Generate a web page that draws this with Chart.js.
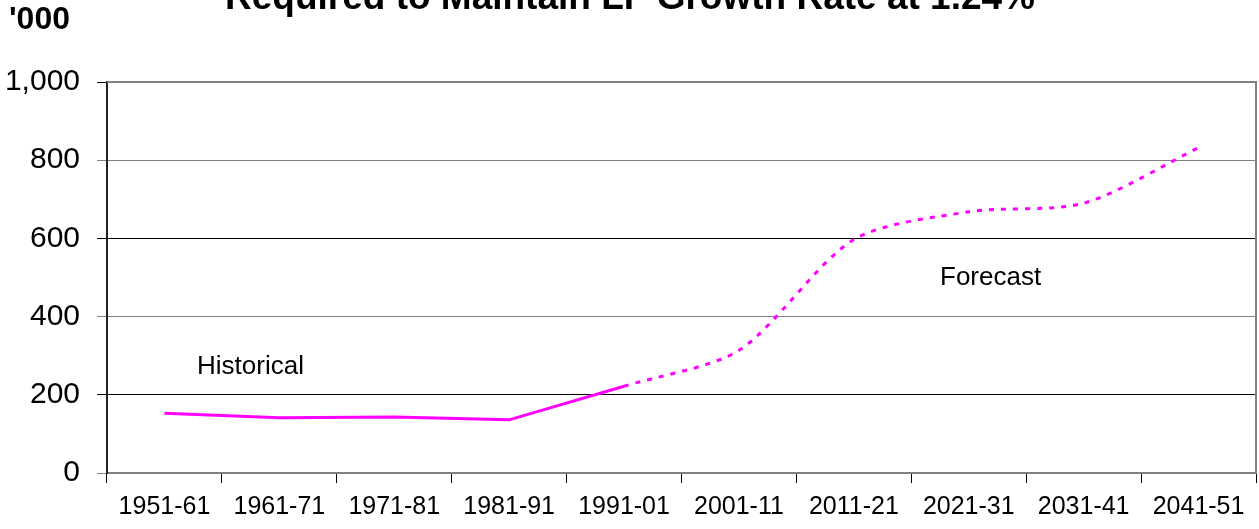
<!DOCTYPE html>
<html>
<head>
<meta charset="utf-8">
<style>
  html, body { margin: 0; padding: 0; background: #fff; }
  #wrap { position: relative; width: 1259px; height: 529px; }
  canvas { display: block; }
</style>
<script src="https://cdn.jsdelivr.net/npm/chart.js@4"></script>
</head>
<body>
<div id="wrap"><canvas id="c" width="1259" height="529"></canvas></div>
<script>
const categories = ['1951-61','1961-71','1971-81','1981-91','1991-01','2001-11','2011-21','2021-31','2031-41','2041-51'];
const historical = [153, 141, 143, 136, 222, null, null, null, null, null];
const forecast   = [null, null, null, null, 222, 314, 597, 668, 690, 832];
const yTicks = [0, 200, 400, 600, 800, 1000];
const titleText = "Required to Maintain LF Growth Rate at 1.24%";
const unitText = "'000";
const histLabel = "Historical";
const foreLabel = "Forecast";

const FONT = "'Liberation Sans', Arial, sans-serif";

const decor = {
  id: 'decor',
  afterDraw(chart) {
    const ctx = chart.ctx, a = chart.chartArea;
    ctx.save();
    ctx.strokeStyle = '#808080';
    ctx.lineWidth = 2;
    ctx.beginPath();
    ctx.moveTo(a.left, a.top);
    ctx.lineTo(a.right, a.top);
    ctx.lineTo(a.right, a.bottom);
    ctx.stroke();

    ctx.fillStyle = '#000';
    ctx.textBaseline = 'alphabetic';
    ctx.font = 'bold 37px ' + FONT;
    ctx.textAlign = 'center';
    ctx.fillText(titleText, 630, 9);

    ctx.font = 'bold 32px ' + FONT;
    ctx.textAlign = 'left';
    ctx.fillText(unitText, 9, 29);

    ctx.font = '26px ' + FONT;
    ctx.fillText(histLabel, 197, 374);
    ctx.fillText(foreLabel, 940, 285);
    ctx.restore();
  }
};

new Chart(document.getElementById('c'), {
  type: 'line',
  data: {
    labels: categories,
    datasets: [
      { data: historical, borderColor: '#FF00FF', borderWidth: 3, pointRadius: 0, tension: 0, spanGaps: false },
      { data: forecast, borderColor: '#FF00FF', borderWidth: 3, borderDash: [5, 7], pointRadius: 0, tension: 0.28, spanGaps: false }
    ]
  },
  options: {
    responsive: false,
    animation: false,
    devicePixelRatio: 1,
    layout: { padding: { top: 82, right: 3, left: 0, bottom: 0 } },
    plugins: { legend: { display: false }, tooltip: { enabled: false }, title: { display: false } },
    scales: {
      x: {
        type: 'category',
        offset: true,
        grid: { offset: true, drawOnChartArea: false, tickLength: 10, color: '#000', lineWidth: 1 },
        border: { color: '#808080', width: 2 },
        ticks: { font: { family: FONT, size: 25 }, color: '#000', padding: 9, maxRotation: 0, autoSkip: false },
        afterFit(s) { s.height = 56; }
      },
      y: {
        min: 0, max: 1000,
        afterBuildTicks(s) { s.ticks = yTicks.map(v => ({ value: v })); },
        grid: { color: ctx => (ctx.index % 2 === 0 ? '#808080' : '#000'), lineWidth: 1, tickLength: 10 },
        border: { color: '#222', width: 2 },
        ticks: { font: { family: FONT, size: 30 }, color: '#000', padding: 17,
                 callback: v => v.toLocaleString('en-US') },
        afterFit(s) { s.width = 107; }
      }
    }
  },
  plugins: [decor]
});
</script>
</body>
</html>
